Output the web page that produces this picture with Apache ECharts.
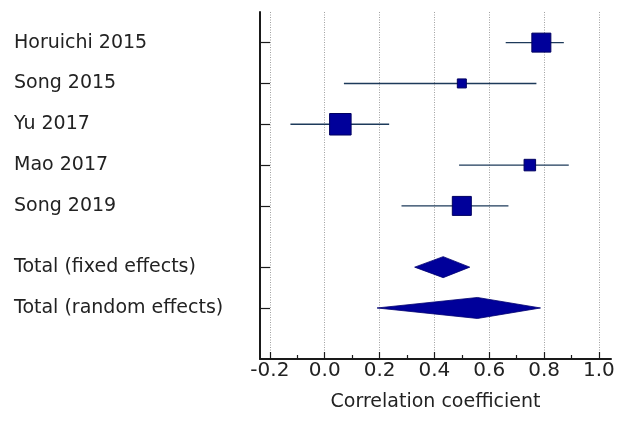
<!DOCTYPE html>
<html>
<head>
<meta charset="utf-8">
<script src="https://cdn.jsdelivr.net/npm/echarts@6/dist/echarts.min.js"></script>
<style>
html,body{margin:0;padding:0;background:#fff;}
#c{width:630px;height:422px;}
</style>
</head>
<body>
<div id="c"></div>
<script>
// ---- data ----
var studies = ['Horuichi 2015', 'Song 2015', 'Yu 2017', 'Mao 2017', 'Song 2019'];
var studyRow = [0, 1, 2, 3, 4];
var studyEst = [0.79, 0.50, 0.057, 0.748, 0.50];
var studyLow = [0.66, 0.07, -0.125, 0.49, 0.28];
var studyHigh = [0.872, 0.772, 0.235, 0.89, 0.67];
var studyWeight = [25.8, 5.8, 33.1, 9.5, 25.8]; // % weight

var totals = ['Total (fixed effects)', 'Total (random effects)'];
var totalRow = [5.5, 6.5];
var totalEst = [0.432, 0.557];
var totalLow = [0.328, 0.191];
var totalHigh = [0.529, 0.787];

var xTickLabels = [-0.2, 0.0, 0.2, 0.4, 0.6, 0.8, 1.0];
var xMinorTicks = [-0.1, 0.1, 0.3, 0.5, 0.7, 0.9];

// ---- build ----
var rowNames = {};
studies.forEach(function (n, i) { rowNames[studyRow[i]] = n; });
totals.forEach(function (n, i) { rowNames[totalRow[i]] = n; });
var allRows = studyRow.concat(totalRow);

var studyData = studies.map(function (n, i) {
  return [studyEst[i], studyRow[i], studyLow[i], studyHigh[i], studyWeight[i]];
});
var totalData = totals.map(function (n, i) {
  return [totalEst[i], totalRow[i], totalLow[i], totalHigh[i]];
});

var SIZE_K = 19 / Math.sqrt(25.8);
var fontFam = '"DejaVu Sans", sans-serif';

function renderStudy(params, api) {
  var row = api.value(1);
  var c = api.coord([api.value(0), row]);
  var l = api.coord([api.value(2), row]);
  var r = api.coord([api.value(3), row]);
  var s = Math.sqrt(api.value(4)) * SIZE_K;
  return {
    type: 'group',
    children: [
      { type: 'line', shape: { x1: l[0], y1: l[1], x2: r[0], y2: r[1] },
        style: { stroke: '#1d3a5a', lineWidth: 1.4 } },
      { type: 'rect', shape: { x: c[0] - s / 2, y: c[1] - s / 2, width: s, height: s },
        style: { fill: '#00009a', stroke: '#000060', lineWidth: 1 } }
    ]
  };
}

function renderTotal(params, api) {
  var row = api.value(1);
  var c = api.coord([api.value(0), row]);
  var l = api.coord([api.value(2), row]);
  var r = api.coord([api.value(3), row]);
  var h = 10.5;
  return {
    type: 'polygon',
    shape: { points: [[l[0], l[1]], [c[0], c[1] - h], [r[0], r[1]], [c[0], c[1] + h]] },
    style: { fill: '#00009a', stroke: '#000070', lineWidth: 0.8 }
  };
}

var chart = echarts.init(document.getElementById('c'), null, { renderer: 'canvas' });
chart.setOption({
  animation: false,
  backgroundColor: '#fff',
  grid: { left: 260, right: 19, top: 12, bottom: 63, containLabel: false, outerBoundsMode: 'none' },
  xAxis: [{
    type: 'value',
    min: -0.236,
    max: 1.044,
    position: 'bottom',
    axisLine: { show: true, onZero: false, lineStyle: { color: '#1a1a1a', width: 2 } },
    axisTick: { show: true, inside: true, length: 7, customValues: xTickLabels,
      lineStyle: { color: '#1a1a1a', width: 1.2 } },
    axisLabel: { customValues: xTickLabels, margin: 2, fontSize: 20, color: '#222',
      fontFamily: fontFam,
      formatter: function (v) { return v.toFixed(1); } },
    splitLine: { show: true, lineStyle: { color: '#a0a0a0', type: [1, 1.5], width: 1 } },
    name: 'Correlation coefficient',
    nameLocation: 'middle',
    nameGap: 34,
    nameTextStyle: { fontSize: 19, color: '#222', fontFamily: fontFam }
  }, {
    type: 'value',
    min: -0.236,
    max: 1.044,
    position: 'bottom',
    axisLine: { show: false, onZero: false },
    axisTick: { show: true, inside: true, length: 4, customValues: xMinorTicks,
      lineStyle: { color: '#1a1a1a', width: 1.2 } },
    axisLabel: { show: false },
    splitLine: { show: false }
  }],
  yAxis: {
    type: 'value',
    inverse: true,
    min: -0.75,
    max: 7.75,
    axisLine: { show: true, onZero: false, lineStyle: { color: '#1a1a1a', width: 2 } },
    axisTick: { show: true, inside: true, length: 10, customValues: allRows,
      lineStyle: { color: '#1a1a1a', width: 1.2 } },
    axisLabel: { customValues: allRows, margin: 246, align: 'left', fontSize: 19,
      color: '#222', fontFamily: fontFam,
      formatter: function (v) { return rowNames[v] || ''; } },
    splitLine: { show: false }
  },
  series: [{
    type: 'custom',
    renderItem: renderStudy,
    encode: { x: [0, 2, 3], y: 1 },
    data: studyData,
    clip: false
  }, {
    type: 'custom',
    renderItem: renderTotal,
    encode: { x: [0, 2, 3], y: 1 },
    data: totalData,
    clip: false
  }]
});
</script>
</body>
</html>
